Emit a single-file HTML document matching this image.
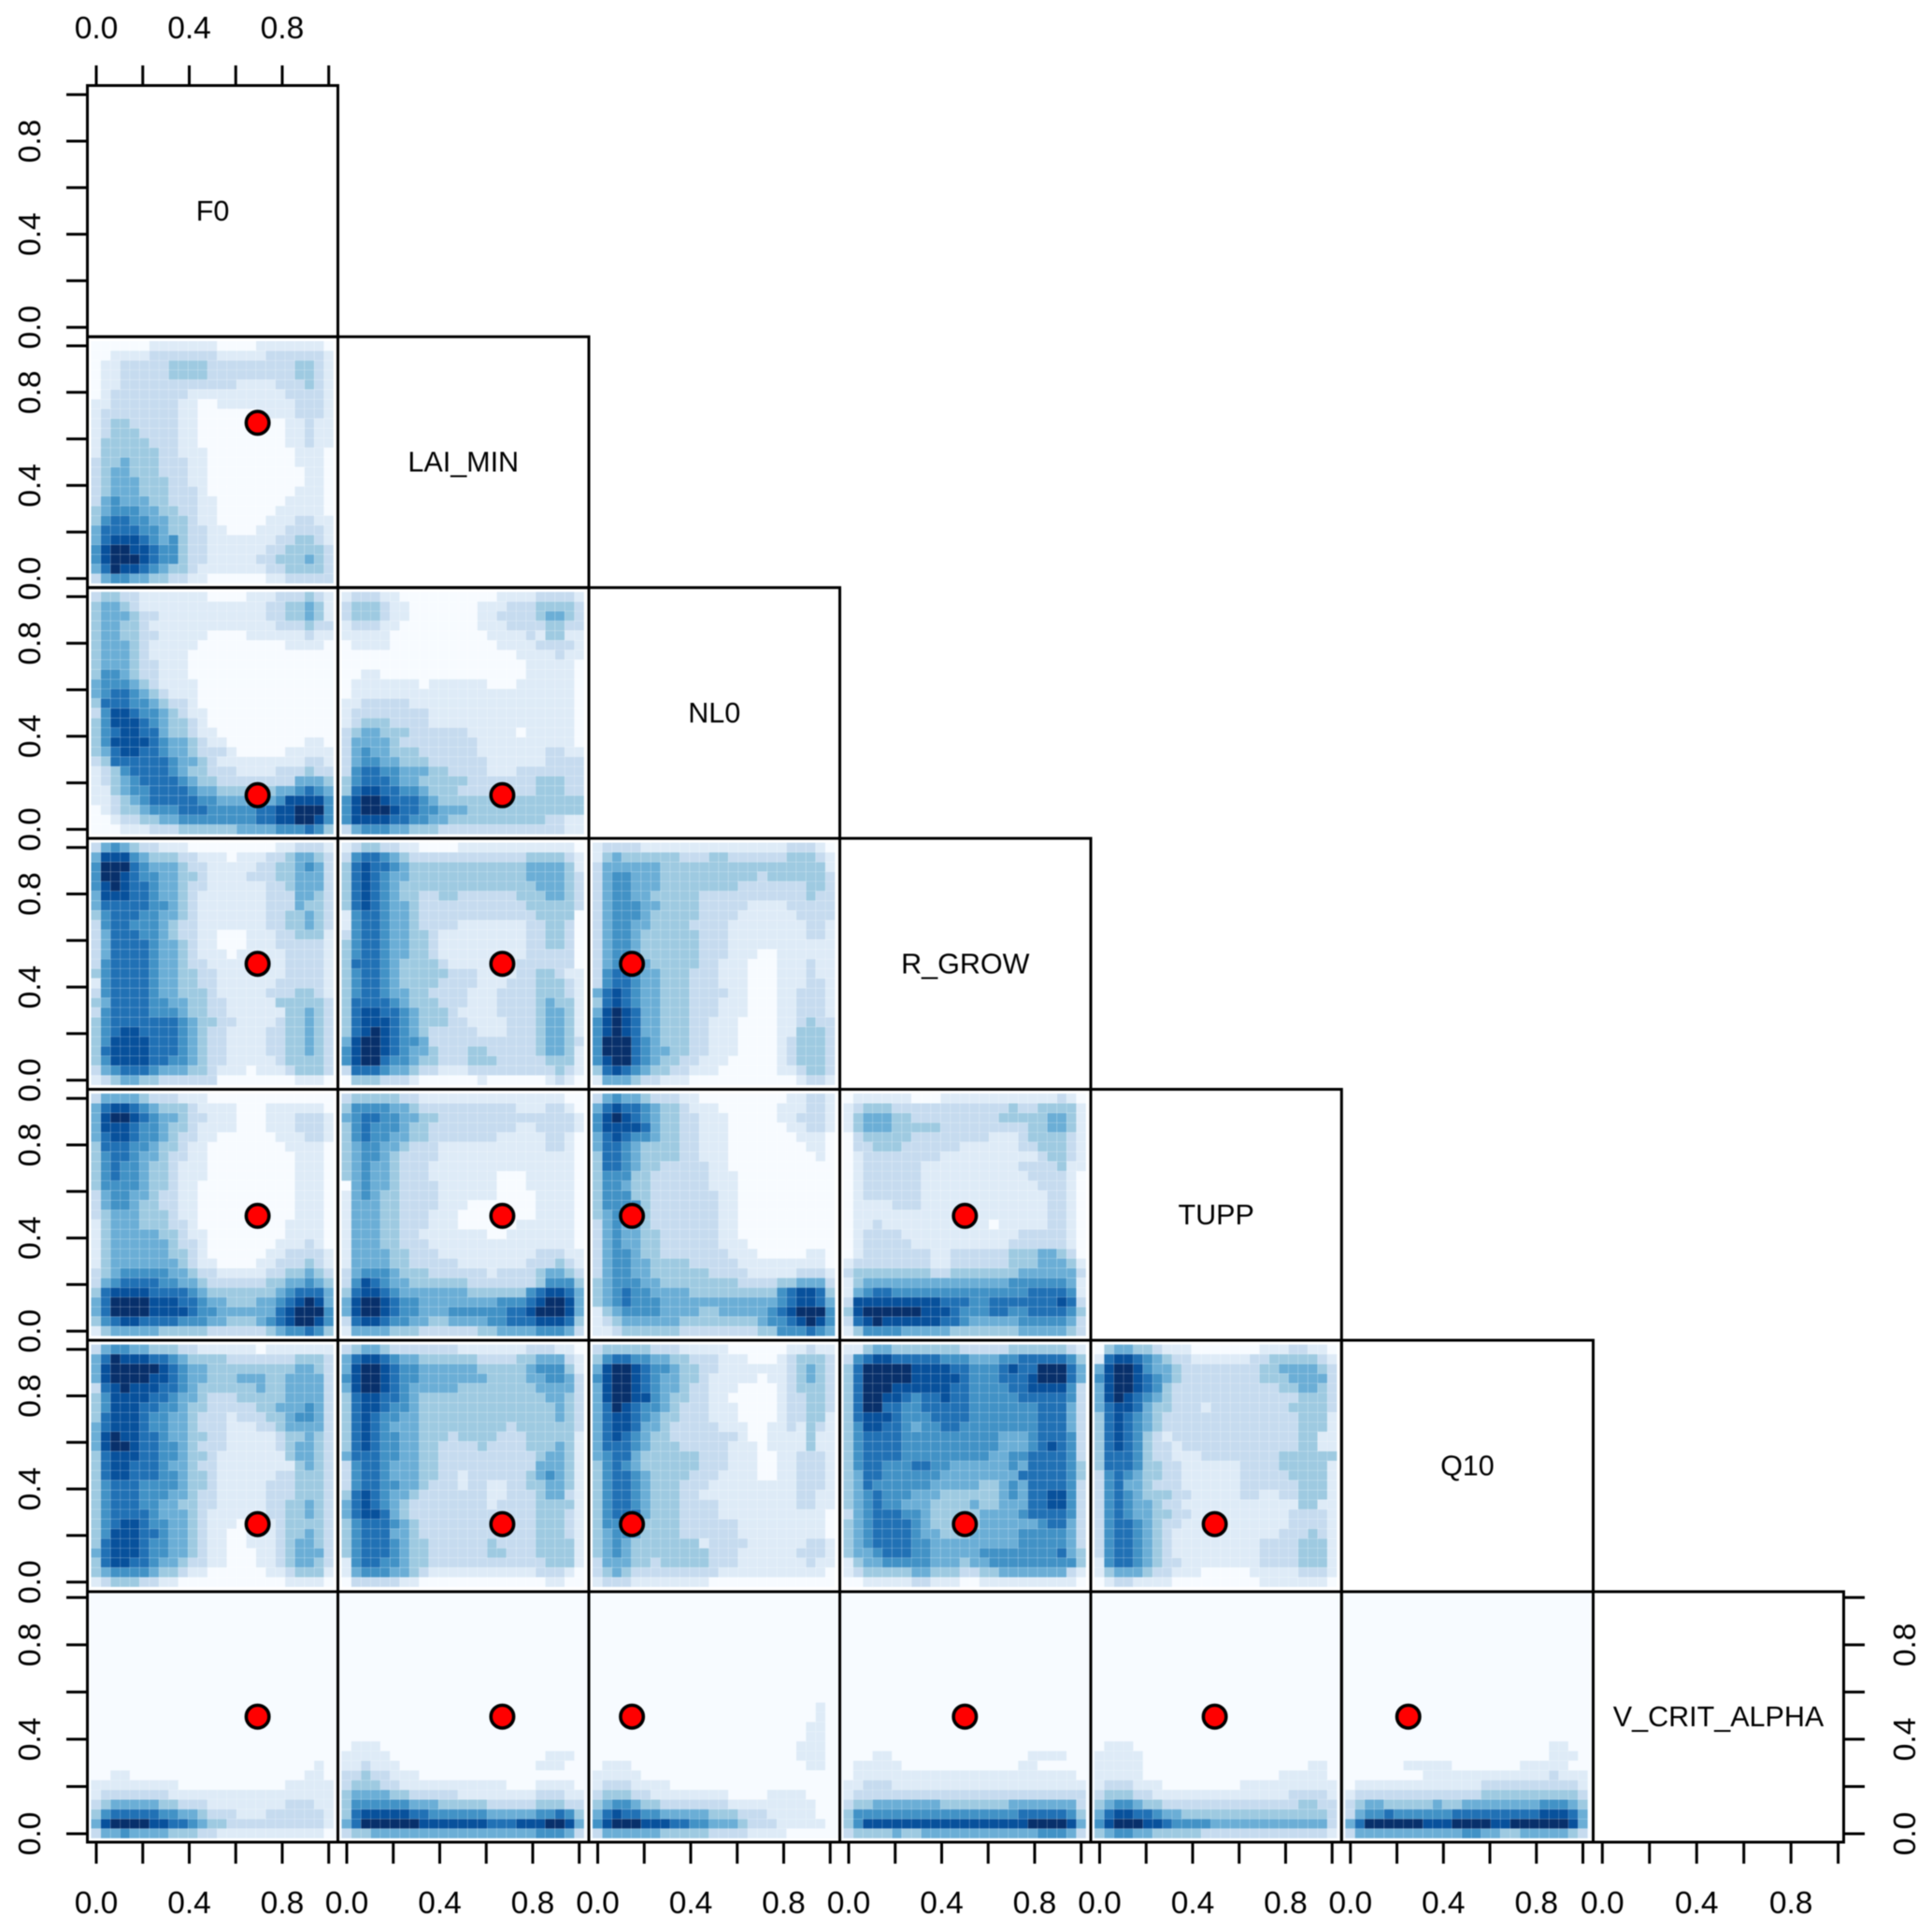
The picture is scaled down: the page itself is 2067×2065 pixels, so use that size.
<!DOCTYPE html>
<html lang="en">
<head>
<meta charset="utf-8">
<title>Pairwise parameter density matrix</title>
<style>
html,body{margin:0;padding:0;background:#fff;}
svg{display:block;filter:blur(0.45px);}
text{font-family:"Liberation Sans",sans-serif;fill:#000;}
</style>
</head>
<body>
<svg id="chart" xmlns="http://www.w3.org/2000/svg" width="2067" height="2065" viewBox="0 0 2067 2065"></svg>
<script>
const variableNames = ["F0","LAI_MIN","NL0","R_GROW","TUPP","Q10","V_CRIT_ALPHA"];
const trueValues = [0.694,0.669,0.147,0.5,0.495,0.249,0.496];
const tickValues = [0,0.2,0.4,0.6,0.8,1];
const tickLabels = ["0.0","","0.4","","0.8",""];
const blues = ["#F7FBFF","#DEEBF7","#C6DBEF","#9ECAE1","#6BAED6","#4292C6","#2171B5","#08519C","#08306B"];

const heatF0LaiMin = ["0000001111111000011111110","0011112222222111112222221","0112222233332222222223321","0112222233332222222223321","0112222222222221111222321","0122222222111111111122221","1122222221100111111112221","1222222221100000011112221","1233222221100000000011211","1233322221100000000011211","1333332221100000000011211","1333333221110000000001110","2334333222110000000001110","2344333222110000000000110","2344433322110000000000110","2344433322210000000001110","2454443322211000000011110","3455544332211000000111110","3566554433211000001112211","4666655433221100011122221","4677765453221111111223321","5788776553221111112233332","5788876553221111122333432","4687765433211111112233332","2455443322110000001122222"];
const heatF0Nl0 = ["2332211111110000111222321","3443211111111111112233431","3444322111111111112233431","3443321111111111111222322","3443322111110000111111211","3444321111100000000011110","3444321111000000000000000","3444322111000000000000000","3554322111000000000000000","4555432111100000000000000","4566543211100000000000000","3666554322100000000000000","2577655432110000000000000","3577765433210000000000000","3567766433211000000000000","3577776544321100000000110","3467766544322210000011111","2366666654432111111111221","1235666654332221111222322","1234566665433222222224443","1134556666544333333445654","1123456666655444444577775","0123345556665555566778885","0012233445555555566778875","0001112223333334444555653"];
const heatLaiMinNl0 = ["1222110000000000111122221","2333211000000011122233332","2333211000000011222234432","1222110000000011122223322","1111100000000001111213311","0111100000000000111122221","0000000000000000001111211","0000000000000000000111110","0011000000000000000111110","0111111101111110001111110","0111111111111111111111110","1122222111111111111111110","1222222221111111111111110","1233322221111111111111110","2344333222222111110111110","2444432222222211111111110","2454433322222211111112211","2455443332222221111112222","2566554443322221112222222","3566654433333222222233322","3677665543332222222233322","5788766654333333333333333","5788876655444333333333333","5777766554433333333332211","2455544333222222222222211"];
const heatF0RGrow = ["2454322111000000000112221","4777543332211101112234432","5888654443221111122334542","5887655443321111222334442","5787665443221111112234442","4777665443211111112224432","4666665543211111112224332","3566655443211111112233432","2566555432211111112233432","2466655432211000111223331","2466665443211000111222221","2466665443211101111122221","2566665443221111111122221","3566665443322111111122221","1566665443322111111222221","2566665443332111112223321","3466665544332211111333332","2566665554332211111133432","3566666665433221111233432","3567766665432211112233432","3577776665432211112233432","3677776665432211112233432","3577776655432211111233332","2456665444332111011123332","1234433222222000000001110"];
const heatLaiMinRGrow = ["1233221100001111111111110","2566543222222222222333321","3676654333333333333444431","3676544333333333333444432","3676543333333333333344432","3676543322332222223334432","3676544322222222222333332","1566544322222222222233330","1566544322221111111223320","2566544332111111111223320","3566544332111111111223320","3566544332111111111222220","3666543333211111112222220","3566543333322211112233211","3566543333222211122233321","3566544332222111222233321","3666654333222111222234331","3677665433321111222234431","3677765433322111122234431","3678765432222211122234431","4788765542222222222234432","5788765443222332222234431","5788655433222333222223331","2666544322111222222222321","0333222100000010000001210"];
const heatNl0RGrow = ["1222211111111111111122210","1343333332223322222233321","2444444333333333333333331","2455444333333333323333332","2455444333333332222222332","2455443333322222222222322","2455544333322222111122222","2455543333322221111112222","2455443333222211111111221","2455433333322211111111221","2455433333322211111111111","2455433333322211100111111","2455543333322111000111211","2566544333222111000111211","2566544333222111000111221","4676544333222211000112221","3676544333222111000112221","4787644333222111000112221","5787644333221110000112322","5787644333221110000113332","5888654333221110000123332","5888654433221110000123332","5788654332211100000123332","3676543322111000000112332","1444322111000000000001221"];
const heatF0Tupp = ["2444432221110000000000000","4677654333211110001111110","4788765443221110001112221","4777655433211110001112221","4677655432211000000111221","3666554332110000000011110","3566544322110000000001110","3565543321110000000001110","3565543321110000000001110","3555543321100000000001110","2455443221100000000001110","2455433221100000000001110","2344433321100000000001110","1344433322100000000011110","1344444332110000000011110","1344444432210000000111210","1344444433210000001122221","1344444443211000011222321","2345555544322111112233432","2456666554432222223344543","3677776666543333333456664","4688887776654433344567874","4688887777655444444678885","3567766665554433345678875","1344444333332222223455653"];
const heatLaiMinTupp = ["2333332211111111111111100","3555544322222222221112210","4566554433222222222222221","3565554332222222221122221","3565544332222222111112210","3455443222111111111112210","3455432222111111111111110","3454432221111111111111110","3454432221111111000111110","0454432222111111000111110","1454332222111111000011110","1444332222111000000011110","1444332221110000000011110","1444332221110000001111110","1444332211111110011111110","1444332221111111111111110","1444433222111111111122211","1444433222221111111222321","2455543332222221222234432","2576544333333222222235553","3677654444444333333567764","4788765544444444555678874","4788765544455555566788874","2677655443344445566677763","1444433322222233444455542"];
const heatNl0Tupp = ["2454432221100000000011221","4676654332111000000111221","5787654332211100000112221","5777764332211100000011221","4676554332211100000001110","4665433332211100000000110","3665433332211100000000010","3665433222221100000000000","3555332222221110000000000","3554332222221110000000000","3555332222222110000000000","3555532222222110000000000","3455532222222110000000000","2454432222222110000000000","2454433222222110000000000","2454433222222111000000000","2455433222222211100000110","2455443333222221111111110","2455443333332222111112221","3455544333333332222334442","3456554444333333333567763","3456555444444444444567764","1345555444433444445678885","1234444443333333345567875","1123333332222222233555654"];
const heatRGrowTupp = ["0111111000111111111111210","1233322222222222232233331","1344433222222222333334431","1344433333222222222334431","0233333222222221112333321","0223332222221111112233321","0122222222111111111123321","0122222211111111112222311","0122222211111111111222210","0122222211111111111122210","0122222211111111111112210","0111122211111111111112210","0111111111111111111112210","0112111111111110111112210","0122221111111111112222210","0122222111111111122222210","0122222221122222233344320","1222222221122222233344431","2333333332233333334444442","1344444444444444455555541","1456655555555555555666651","2777777777666556666666762","3788888877765556655666653","2678777777665444445555542","1355554444433333334444432"];
const heatF0Q10 = ["2455443332211111101111111","4687776654333322222223332","4788888765443333333334432","4788887765443334443344442","2678777665433333343344442","3577776654432223333344442","3577766554332222233444542","3677765544322212223345542","4677765544322211122344442","4787766544332211111233432","4788766554322211111234432","3677766554332111111134432","3677666544322111111113432","3677666554332111111223332","3566655554332111112223332","3566655544322111112223332","3566655443322111112233432","3566665444321111112233432","3567765544321110111233332","3577766544321100111233432","3677765544321100111234432","4677765544321100011234442","3677665443221100011234432","3455554332110000001123331","1233322110000000000011110"];
const heatLaiMinQ10 = ["2344322222221111111222110","4677654433333322223344421","4788765544444433333455531","5788765544444443333445542","4788765444443333333344442","3677665433333333333334432","3677655433333333333333432","3676554433333333333333432","3676544433333333323333332","3676554433323333222333331","3676554433222232222333431","4666554433222222222234431","2566544433222222222244431","2566544433221222222345431","2566554432221221122334431","3676544322222221122234421","4676543222222221222233331","4677643222222222222233321","3566654322222222222233321","3566644322222222222233321","3566654332222223222233331","3566654332222223322233331","1566554332222222222223331","1455544321111111111122210","0222221100000000000001100"];
const heatNl0Q10 = ["2333332221111100000011211","3566554433222111000123332","4788765543322111111123432","5788765443321111101123432","4788765443221110000123332","4788775433221100000122332","4687655432221110000122332","4677654332221110000122331","4677644322222111001121321","4676543322222221001111311","4666543332222211101111311","4566433333322211100112221","3565433333322211100112221","3566543333222111100112221","3566543332221111111112221","3566543332211111111112211","3566543332222111111112211","3566643332222111111111110","3555533332222221111111110","3455433332222221111111110","3454333333312222111111221","3454333333332221111112221","2444332333332221111111211","2343222222222111111111110","1222111111110000000000000"];
const heatRGrowQ10 = ["1134433333332222233333321","2567766666555444556666653","3688888777766555676688864","3688888777776555666788864","3688877777766555566777752","3688776566766555556666652","3688665566666555555566642","3677765556666555555566642","3577665455665555555566642","3566665555555555444566652","3566665555555555444567652","3566665555555554455666652","3566555665544444454666653","3466555555444444446666653","3465555554444433454666652","3456555444333333454667752","3456554443333433444667752","2456665543333344445666652","3456666543333344444456642","3456666544333444445555542","3456666554444444445555542","3445666554444455555555643","1344555554443445555555553","1233333443332233444444421","0011111221110011111111110"];
const heatTuppQ10 = ["0344332111000000011122110","1677654322111111223333321","4788754432222222233444432","5788765432222222233344442","4788765322222222222334432","4787654322222222222223332","4677643322212222222233332","3676543222222222222223331","3676543222222222222223331","3676532122222222222223311","3676532212222222222223311","3666532211122222222333333","3666533221111112222333331","2565433221111112222233331","2564432221111112222223331","2565433322111112211223331","2565443221111111111113311","2565443322111111111122221","2566543221111111111122221","2566543211111111111222321","2566543211111111122223331","2566543211111111122223331","1566543221111111122223331","1344432211100000111112221","0122111100000000011111110"];
const heatF0VCrit = ["0000000000000000000000010","0011000000000000000000110","1111111110000000000011111","1222222211111111111111111","2344444332221111111122211","3566666554432221112222221","4788887766543322222222221","2445444433322111111111110"];
const heatLaiMinVCrit = ["0111000000000000000000000","1111100000000000000001110","1121110000000000000011100","2232211100000000000000000","2333221111111111100011110","3444433222221111111122211","3555555444333332222233322","3677777665555554444455653","4688888877777776667778874","2334444444444444444455542"];
const heatNl0VCrit = ["0000000000000000000000010","0000000000000000000000010","0000000000000000000000110","0000000000000000000000110","0000000000000000000001110","0000000000000000000001110","0111000000000000000000110","1111100000000000000000000","1222111100000000000000000","2333221111111100001111000","3455433222222211111111100","4676655444443332221111100","5788877766554443222111110","2444444333332222111100000"];
const heatRGrowVCrit = ["0001100000000000000111100","0111110000000000001100000","0111111111111111111111110","1122211111111111111111111","1222222222222222222222222","2334444444333333344444442","3555555555555555556666653","3577777777777777777888874","2333343344444444444455542"];
const heatTuppVCrit = ["0111000000000000000000000","1111100000000000000000000","1111100000000000000000110","1111100000000000000111110","1222111000000001111111111","2333221111111111111122221","3455433222222222222223322","4677665443333333333333332","5788877655554444444444442","3455443333322222222222221"];
const heatQ10VCrit = ["0000000000000000000001100","0000000000000000000001110","0000001111100000001111100","0000000011111111111112111","0111111111111122222222221","1222222222222233333333332","2344333334334444444455543","2455655555566666666677764","4688888877788887788888874","2444444444445544334444432"];

const heatByRow = [
  [],
  [heatF0LaiMin],
  [heatF0Nl0,heatLaiMinNl0],
  [heatF0RGrow,heatLaiMinRGrow,heatNl0RGrow],
  [heatF0Tupp,heatLaiMinTupp,heatNl0Tupp,heatRGrowTupp],
  [heatF0Q10,heatLaiMinQ10,heatNl0Q10,heatRGrowQ10,heatTuppQ10],
  [heatF0VCrit,heatLaiMinVCrit,heatNl0VCrit,heatRGrowVCrit,heatTuppVCrit,heatQ10VCrit]
];

const svg = document.getElementById('chart');
const NS = 'http://www.w3.org/2000/svg';
const panelX = [93.5,361.5,630,898.5,1167,1435.3,1704.5,1972.5];
const panelY = [91.5,360.3,628.7,897,1165.5,1434,1703,1971];
const BINS = 25, CELL = 10.38;

function xAxis(col, v){
  if(col === 6) return 1714.3 + v*252.3;
  return panelX[col] + 9.5 + v*248.7;
}
function yAxis(row, v){
  if(row === 6) return 1962 - v*252.7;
  return panelY[row] + 258.7 - v*249;
}
function make(tag, attrs, parent){
  const el = document.createElementNS(NS, tag);
  for(const k in attrs){ el.setAttribute(k, attrs[k]); }
  (parent || svg).appendChild(el);
  return el;
}
function drawHeat(matrix, row, col){
  const g = make('g', {});
  
  
  const last = row === 6;
  if(last){
    const bg = make('rect', {x:panelX[col], y:panelY[row], width:panelX[col+1]-panelX[col], height:1967-panelY[row], fill:blues[0]}, g);
    
    
  }
  const x0 = panelX[col] + 4;
  const y0 = last ? 1967 - BINS*CELL : panelY[row] + 4.6;
  const pad = BINS - matrix.length;
  for(let r = 0; r < matrix.length; r++){
    const line = matrix[r].padEnd(BINS, '0');
    for(let c = 0; c < BINS; c++){
      const level = Number(line[c]);
      const cell = make('rect', {x:(x0 + c*CELL).toFixed(2), y:(y0 + (r+pad)*CELL).toFixed(2), width:CELL-0.2, height:CELL-0.2, fill:blues[level]}, g);
      
      
    }
  }
}
function drawLine(x1,y1,x2,y2,name){
  const l = make('line', {x1:x1,y1:y1,x2:x2,y2:y2,stroke:'#000','stroke-width':3});
  
  
}
function drawLabel(str,x,y,size,rot,name){
  const attrs = {x:x,y:y,'font-size':size,'text-anchor':'middle'};
  if(rot){ attrs.transform = 'rotate(-90 '+x+' '+y+')'; }
  const t = make('text', attrs);
  t.textContent = str;
  
  
}

/* heatmaps */
for(let row = 1; row < 7; row++){
  for(let col = 0; col < row; col++){
    drawHeat(heatByRow[row][col], row, col);
  }
}
/* panel boxes and diagonal labels */
for(let row = 0; row < 7; row++){
  for(let col = 0; col <= row; col++){
    const b = make('rect', {x:panelX[col], y:panelY[row], width:panelX[col+1]-panelX[col], height:panelY[row+1]-panelY[row], fill:'none', stroke:'#000', 'stroke-width':3});
    
    
  }
  const cx = (panelX[row] + panelX[row+1]) / 2;
  const cy = (panelY[row] + panelY[row+1]) / 2;
  drawLabel(variableNames[row], cx, cy + 10, 30.5, false, 'variable-label');
}
/* axes */
tickValues.forEach(function(v, i){
  const label = tickLabels[i];
  const tx = xAxis(0, v);
  drawLine(tx, panelY[0], tx, 70, 'top-axis-tick');
  if(label){ drawLabel(label, tx, 41, 33.5, false, 'top-axis-label'); }
  for(let row = 0; row < 7; row++){
    const y = yAxis(row, v);
    drawLine(71, y, panelX[0], y, 'left-axis-tick');
    if(label){ drawLabel(label, 43, y, 33.5, true, 'left-axis-label'); }
  }
  for(let col = 0; col < 7; col++){
    const x = xAxis(col, v);
    drawLine(x, panelY[7], x, 1994, 'bottom-axis-tick');
    if(label){ drawLabel(label, x, 2047, 33.5, false, 'bottom-axis-label'); }
  }
  const ry = yAxis(6, v);
  drawLine(panelX[7], ry, 1995, ry, 'right-axis-tick');
  if(label){ drawLabel(label, 2049, ry, 33.5, true, 'right-axis-label'); }
});
/* true-value markers */
for(let row = 1; row < 7; row++){
  for(let col = 0; col < row; col++){
    const d = make('circle', {cx:xAxis(col, trueValues[col]).toFixed(1), cy:yAxis(row, trueValues[row]).toFixed(1), r:12.2, fill:'#FF0000', stroke:'#000', 'stroke-width':3.6});
    
    
  }
}
</script>
</body>
</html>
